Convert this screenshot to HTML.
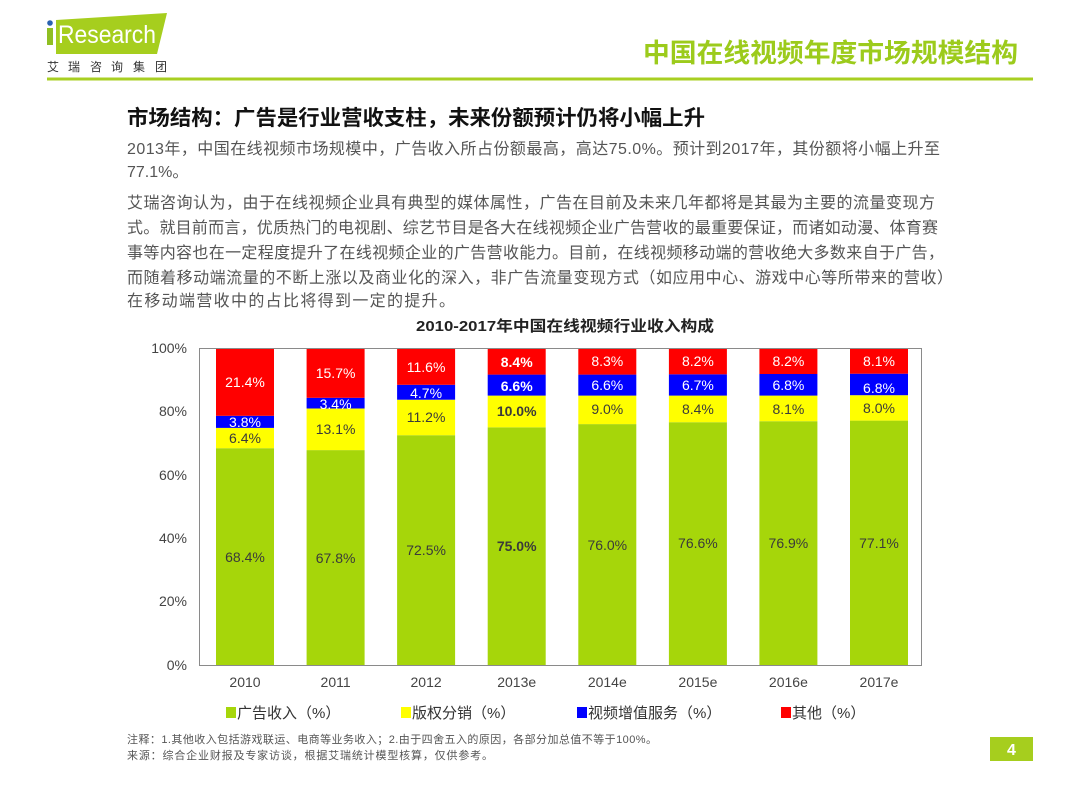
<!DOCTYPE html>
<html>
<head>
<meta charset="utf-8">
<style>
  html, body { margin:0; padding:0; background:#fff; }
  body { width:1080px; height:810px; overflow:hidden; }
  svg { display:block; }
  .cn { font-family: "Liberation Sans", "Noto Sans CJK SC", sans-serif; }
</style>
</head>
<body>
<svg width="1080" height="810" viewBox="0 0 1080 810" xmlns="http://www.w3.org/2000/svg" class="cn" font-family="Liberation Sans, Noto Sans CJK SC, sans-serif">
  <!-- Logo -->
  <polygon points="56,20 167,13 157,54 56,54" fill="#a6ce1e"/>
  <rect x="47" y="28" width="6" height="17" fill="#8fbf22"/>
  <circle cx="50" cy="23" r="2.8" fill="#2a62b0"/>
  <text x="58" y="43" font-size="25" fill="#fff" textLength="98" lengthAdjust="spacingAndGlyphs">Research</text>
  <g font-size="12" fill="#333">
    <text x="47" y="71">艾</text>
    <text x="68" y="71">瑞</text>
    <text x="90" y="71">咨</text>
    <text x="111" y="71">询</text>
    <text x="133" y="71">集</text>
    <text x="155" y="71">团</text>
  </g>
  <!-- Header line -->
  <rect x="47" y="77.5" width="986" height="3" fill="#a8cf22"/>
  <!-- Page title -->
  <text x="643" y="62" font-size="26" font-weight="bold" fill="#9ccb1c" textLength="375" lengthAdjust="spacingAndGlyphs">中国在线视频年度市场规模结构</text>

  <!-- Heading -->
  <text x="127" y="125" font-size="21" font-weight="bold" fill="#111" textLength="578" lengthAdjust="spacingAndGlyphs">市场结构：广告是行业营收支柱，未来份额预计仍将小幅上升</text>

  <!-- Body -->
  <g font-size="16" fill="#555">
    <text x="127" y="154" textLength="813" lengthAdjust="spacing">2013年，中国在线视频市场规模中，广告收入所占份额最高，高达75.0%。预计到2017年，其份额将小幅上升至</text>
    <text x="127" y="177">77.1%。</text>
    <text x="127" y="208" textLength="808" lengthAdjust="spacing">艾瑞咨询认为，由于在线视频企业具有典型的媒体属性，广告在目前及未来几年都将是其最为主要的流量变现方</text>
    <text x="127" y="233" textLength="811" lengthAdjust="spacing">式。就目前而言，优质热门的电视剧、综艺节目是各大在线视频企业广告营收的最重要保证，而诸如动漫、体育赛</text>
    <text x="127" y="258" textLength="817" lengthAdjust="spacing">事等内容也在一定程度提升了在线视频企业的广告营收能力。目前，在线视频移动端的营收绝大多数来自于广告，</text>
    <text x="127" y="283" textLength="826" lengthAdjust="spacing">而随着移动端流量的不断上涨以及商业化的深入，非广告流量变现方式（如应用中心、游戏中心等所带来的营收）</text>
    <text x="127" y="306" textLength="328" lengthAdjust="spacing">在移动端营收中的占比将得到一定的提升。</text>
  </g>

  <!-- Chart title -->
  <text x="416" y="331" font-size="15" font-weight="bold" fill="#222" textLength="298" lengthAdjust="spacingAndGlyphs">2010-2017年中国在线视频行业收入构成</text>

  <!-- Bars -->
  <g>
    <!-- 2010 -->
    <rect x="216" y="448.2" width="58" height="216.8" fill="#a6d60a"/>
    <rect x="216" y="427.9" width="58" height="20.3" fill="#ffff00"/>
    <rect x="216" y="415.8" width="58" height="12.1" fill="#0000ff"/>
    <rect x="216" y="348" width="58" height="67.8" fill="#ff0000"/>
    <!-- 2011 -->
    <rect x="306.6" y="450.1" width="58" height="214.9" fill="#a6d60a"/>
    <rect x="306.6" y="408.5" width="58" height="41.6" fill="#ffff00"/>
    <rect x="306.6" y="397.8" width="58" height="10.7" fill="#0000ff"/>
    <rect x="306.6" y="348" width="58" height="49.8" fill="#ff0000"/>
    <!-- 2012 -->
    <rect x="397.1" y="435.2" width="58" height="229.8" fill="#a6d60a"/>
    <rect x="397.1" y="399.7" width="58" height="35.5" fill="#ffff00"/>
    <rect x="397.1" y="384.8" width="58" height="14.9" fill="#0000ff"/>
    <rect x="397.1" y="348" width="58" height="36.8" fill="#ff0000"/>
    <!-- 2013e -->
    <rect x="487.7" y="427.3" width="58" height="237.7" fill="#a6d60a"/>
    <rect x="487.7" y="395.6" width="58" height="31.7" fill="#ffff00"/>
    <rect x="487.7" y="374.6" width="58" height="21" fill="#0000ff"/>
    <rect x="487.7" y="348" width="58" height="26.6" fill="#ff0000"/>
    <!-- 2014e -->
    <rect x="578.3" y="424.1" width="58" height="240.9" fill="#a6d60a"/>
    <rect x="578.3" y="395.6" width="58" height="28.5" fill="#ffff00"/>
    <rect x="578.3" y="374.6" width="58" height="21" fill="#0000ff"/>
    <rect x="578.3" y="348" width="58" height="26.6" fill="#ff0000"/>
    <!-- 2015e -->
    <rect x="668.9" y="422.2" width="58" height="242.8" fill="#a6d60a"/>
    <rect x="668.9" y="395.6" width="58" height="26.6" fill="#ffff00"/>
    <rect x="668.9" y="374.3" width="58" height="21.3" fill="#0000ff"/>
    <rect x="668.9" y="348" width="58" height="26.3" fill="#ff0000"/>
    <!-- 2016e -->
    <rect x="759.4" y="421.2" width="58" height="243.8" fill="#a6d60a"/>
    <rect x="759.4" y="395.6" width="58" height="25.6" fill="#ffff00"/>
    <rect x="759.4" y="374" width="58" height="21.6" fill="#0000ff"/>
    <rect x="759.4" y="348" width="58" height="26" fill="#ff0000"/>
    <!-- 2017e -->
    <rect x="850" y="420.6" width="58" height="244.4" fill="#a6d60a"/>
    <rect x="850" y="395.2" width="58" height="25.4" fill="#ffff00"/>
    <rect x="850" y="373.7" width="58" height="21.5" fill="#0000ff"/>
    <rect x="850" y="348" width="58" height="25.7" fill="#ff0000"/>
  </g>

  <!-- Plot border -->
  <rect x="199.5" y="348.5" width="722" height="317" fill="none" stroke="#8a8a8a" stroke-width="1"/>

  <!-- Data labels -->
  <g font-size="14" text-anchor="middle">
    <g fill="#fff">
      <text x="245" y="387">21.4%</text>
      <text x="245" y="427">3.8%</text>
      <text x="335.6" y="378">15.7%</text>
      <text x="335.6" y="409">3.4%</text>
      <text x="426.1" y="372">11.6%</text>
      <text x="426.1" y="398">4.7%</text>
      <text x="516.7" y="367" font-weight="bold">8.4%</text>
      <text x="516.7" y="391" font-weight="bold">6.6%</text>
      <text x="607.3" y="366">8.3%</text>
      <text x="607.3" y="390">6.6%</text>
      <text x="697.9" y="366">8.2%</text>
      <text x="697.9" y="390">6.7%</text>
      <text x="788.4" y="366">8.2%</text>
      <text x="788.4" y="390">6.8%</text>
      <text x="879" y="366">8.1%</text>
      <text x="879" y="393">6.8%</text>
    </g>
    <g fill="#3a3a3a">
      <text x="245" y="443">6.4%</text>
      <text x="335.6" y="434">13.1%</text>
      <text x="426.1" y="422">11.2%</text>
      <text x="516.7" y="416" font-weight="bold">10.0%</text>
      <text x="607.3" y="414">9.0%</text>
      <text x="697.9" y="414">8.4%</text>
      <text x="788.4" y="414">8.1%</text>
      <text x="879" y="413">8.0%</text>
      <text x="245" y="562">68.4%</text>
      <text x="335.6" y="563">67.8%</text>
      <text x="426.1" y="555">72.5%</text>
      <text x="516.7" y="551" font-weight="bold">75.0%</text>
      <text x="607.3" y="550">76.0%</text>
      <text x="697.9" y="548">76.6%</text>
      <text x="788.4" y="548">76.9%</text>
      <text x="879" y="548">77.1%</text>
    </g>
  </g>

  <!-- Y axis labels -->
  <g font-size="14" fill="#444" text-anchor="end">
    <text x="187" y="353">100%</text>
    <text x="187" y="416">80%</text>
    <text x="187" y="480">60%</text>
    <text x="187" y="543">40%</text>
    <text x="187" y="606">20%</text>
    <text x="187" y="670">0%</text>
  </g>

  <!-- X axis labels -->
  <g font-size="14" fill="#444" text-anchor="middle">
    <text x="245" y="687">2010</text>
    <text x="335.6" y="687">2011</text>
    <text x="426.1" y="687">2012</text>
    <text x="516.7" y="687">2013e</text>
    <text x="607.3" y="687">2014e</text>
    <text x="697.9" y="687">2015e</text>
    <text x="788.4" y="687">2016e</text>
    <text x="879" y="687">2017e</text>
  </g>

  <!-- Legend -->
  <g font-size="15" fill="#333">
    <rect x="226" y="707" width="10" height="11" fill="#a6d60a"/>
    <text x="237" y="718">广告收入（%）</text>
    <rect x="401" y="707" width="10" height="11" fill="#ffff00"/>
    <text x="412" y="718">版权分销（%）</text>
    <rect x="577" y="707" width="10" height="11" fill="#0000ff"/>
    <text x="588" y="718">视频增值服务（%）</text>
    <rect x="781" y="707" width="10" height="11" fill="#ff0000"/>
    <text x="792" y="718">其他（%）</text>
  </g>

  <!-- Footer notes -->
  <g font-size="11" fill="#555">
    <text x="127" y="743" textLength="530" lengthAdjust="spacing">注释：1.其他收入包括游戏联运、电商等业务收入；2.由于四舍五入的原因，各部分加总值不等于100%。</text>
    <text x="127" y="759" textLength="366" lengthAdjust="spacing">来源：综合企业财报及专家访谈，根据艾瑞统计模型核算，仅供参考。</text>
  </g>

  <!-- Page number -->
  <rect x="990" y="737" width="43" height="24" fill="#a6ce1e"/>
  <text x="1011.5" y="755" font-size="16" font-weight="bold" fill="#fff" text-anchor="middle">4</text>
</svg>
</body>
</html>
